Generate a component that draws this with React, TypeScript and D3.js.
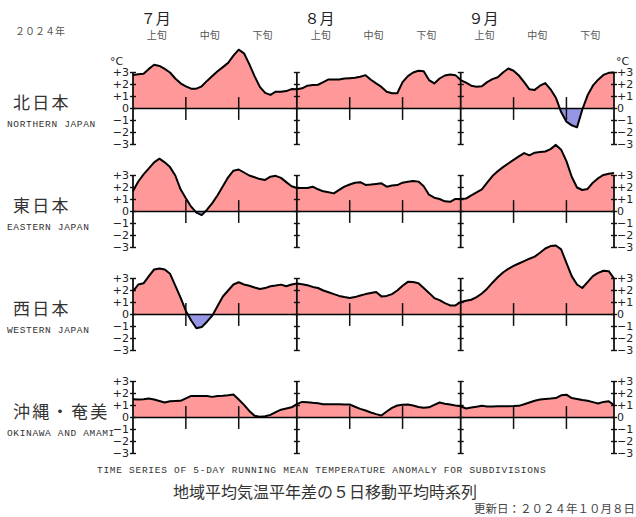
import React from 'react';
import * as d3 from 'd3';

// 5-day running mean temperature anomaly (°C), Jul 1 - Sep 30, 2024
const northern = [
  2.8, 2.85, 2.9, 3.3, 3.65, 3.55, 3.3, 3.0, 2.5, 2.1,
  1.85, 1.65, 1.65, 1.85, 2.3, 2.7, 3.1, 3.45, 3.8, 4.4,
  4.9, 4.6, 3.7, 2.7, 1.8, 1.3, 1.13, 1.4, 1.4, 1.45,
  1.62, 1.6, 1.68, 1.9, 1.96, 1.98, 2.2, 2.42, 2.42, 2.42,
  2.5, 2.53, 2.56, 2.65, 2.78, 2.4, 2.09, 1.8, 1.4, 1.27,
  1.27, 2.2, 2.7, 3.0, 3.14, 3.1, 2.37, 2.09, 2.5, 2.75,
  2.84, 2.78, 2.37, 2.15, 1.9, 1.82, 1.85, 2.2, 2.45, 2.6,
  3.0, 3.33, 3.15, 2.75, 2.2, 1.6, 1.55, 1.9, 2.12, 1.6,
  0.9, -0.3, -1.1, -1.4, -1.57, -0.1, 1.1, 1.9, 2.4, 2.8,
  2.97, 3.0,
];
const eastern = [
  1.71, 2.5, 3.1, 3.6, 4.1, 4.4, 4.1, 3.7, 3.0, 1.85,
  1.1, 0.4, -0.1, -0.3, 0.15, 0.7, 1.35, 2.1, 2.85, 3.4,
  3.5, 3.25, 3.0, 2.85, 2.7, 2.63, 2.9, 2.97, 2.8, 2.45,
  2.1, 1.96, 1.96, 1.96, 2.07, 1.85, 1.68, 1.6, 1.51, 1.8,
  2.07, 2.25, 2.4, 2.44, 2.21, 2.25, 2.3, 2.35, 2.07, 2.16,
  2.2, 2.4, 2.48, 2.55, 2.49, 2.1, 1.4, 1.15, 1.04, 0.85,
  0.81, 1.05, 1.05, 1.08, 1.35, 1.6, 1.85, 2.4, 2.95, 3.35,
  3.7, 4.0, 4.3, 4.6, 4.87, 4.68, 4.9, 4.96, 5.0, 5.2,
  5.55, 5.15, 4.2, 2.9, 2.0, 1.79, 1.88, 2.4, 2.77, 3.05,
  3.15, 3.2,
];
const western = [
  1.93, 2.5, 2.6, 3.2, 3.75, 3.84, 3.75, 3.4, 2.4, 1.4,
  0.3, -0.5, -1.15, -1.05, -0.6, -0.1, 0.7, 1.5, 2.0, 2.5,
  2.69, 2.5, 2.4, 2.25, 2.13, 2.2, 2.35, 2.41, 2.49, 2.35,
  2.5, 2.58, 2.52, 2.44, 2.3, 2.21, 2.0, 1.85, 1.7, 1.55,
  1.45, 1.37, 1.45, 1.58, 1.7, 1.8, 1.88, 1.51, 1.55, 1.7,
  2.0, 2.4, 2.72, 2.7, 2.6, 2.2, 1.8, 1.37, 1.2, 0.95,
  0.76, 0.76, 1.04, 1.15, 1.23, 1.45, 1.75, 2.15, 2.65, 3.1,
  3.5, 3.8, 4.05, 4.25, 4.45, 4.65, 4.82, 5.15, 5.5, 5.7,
  5.75, 5.43, 4.3, 3.2, 2.5, 2.21, 2.7, 3.2, 3.47, 3.65,
  3.61, 3.0,
];
const okinawa = [
  1.53, 1.5, 1.52, 1.58, 1.5, 1.38, 1.25, 1.36, 1.38, 1.39,
  1.6, 1.8, 1.8, 1.8, 1.8, 1.72, 1.8, 1.82, 1.85, 1.92,
  1.5, 1.05, 0.55, 0.15, 0.06, 0.1, 0.22, 0.45, 0.65, 0.75,
  0.85, 1.11, 1.3, 1.28, 1.22, 1.18, 1.11, 1.11, 1.11, 1.1,
  1.09, 1.08, 0.9, 0.72, 0.58, 0.42, 0.28, 0.17, 0.5, 0.8,
  1.0, 1.06, 1.08, 1.0, 0.88, 0.81, 0.85, 1.05, 1.25, 1.15,
  1.08, 1.0, 0.94, 0.75, 0.83, 0.9, 0.98, 0.92, 0.92, 0.94,
  0.94, 0.94, 0.95, 0.97, 1.1, 1.25, 1.4, 1.5, 1.55, 1.58,
  1.62, 1.85, 1.9, 1.62, 1.55, 1.45, 1.39, 1.28, 1.17, 1.3,
  1.36, 1.03,
];

const regionJa = ['北日本', '東日本', '西日本', '沖縄・奄美'];
const regionEn = ['NORTHERN JAPAN', 'EASTERN JAPAN', 'WESTERN JAPAN', 'OKINAWA AND AMAMI'];
const series = [northern, eastern, western, okinawa];

const months = ['７月', '８月', '９月'];
const monthStart = [0, 31, 62];
const decades = ['上旬', '中旬', '下旬'];
const decadeOffset = [0, 10, 20];
const yTicks = [3, 2, 1, 0, -1, -2, -3];
const yTickLabels = ['+3', '+2', '+1', '0', '−1', '−2', '−3'];

const W = 636, H = 517;
const PINK = '#ff9999';
const BLUE = '#9696e6';
const axisFont = '"DejaVu Sans", sans-serif';
const jaFont = '"Noto Sans CJK JP", sans-serif';
const monoFont = '"Liberation Mono", "DejaVu Sans Mono", monospace';

const x = d3.scaleLinear().domain([0, 91]).range([133, 614]);

function Panel({ idx }: { idx: number }) {
  const zero = 108.5 + idx * 103;
  const y = d3.scaleLinear().domain([-3, 3]).range([zero + 36, zero - 36]);
  const data = series[idx];
  const area = d3.area<number>().x((_, i) => x(i)).y0(zero).y1(d => y(d));
  const line = d3.line<number>().x((_, i) => x(i)).y(d => y(d));
  const x0 = x(0), x1 = x(data.length - 1);
  const axesAt = [0, 31, 62, 91];
  const decadeTicks = monthStart.flatMap(m => [m + 10, m + 20]);

  return (
    <g>
      <defs>
        <clipPath id={`pos${idx}`}><rect x={x0} y={0} width={x1 - x0} height={zero} /></clipPath>
        <clipPath id={`neg${idx}`}><rect x={x0} y={zero} width={x1 - x0} height={200} /></clipPath>
      </defs>
      <path d={area(data) || ''} fill={PINK} clipPath={`url(#pos${idx})`} />
      <path d={area(data) || ''} fill={BLUE} clipPath={`url(#neg${idx})`} />
      <line x1={x0} x2={x1} y1={zero} y2={zero} stroke="#000" strokeWidth={1.6} />
      {decadeTicks.map(d => (
        <line key={d} x1={x(d)} x2={x(d)} y1={y(0.95)} y2={y(-0.95)} stroke="#111" strokeWidth={1.5} />
      ))}
      {axesAt.map(a => (
        <g key={a}>
          <line x1={x(a)} x2={x(a)} y1={y(3)} y2={y(-3)} stroke="#111" strokeWidth={1.8} />
          {yTicks.map(t => (
            <line key={t} x1={x(a) - 3} x2={x(a) + 3} y1={y(t)} y2={y(t)} stroke="#111" strokeWidth={1.4} />
          ))}
        </g>
      ))}
      <path d={line(data) || ''} fill="none" stroke="#000" strokeWidth={2} strokeLinejoin="round" />
      {yTicks.map((t, i) => (
        <g key={t} fontFamily={axisFont} fontSize={11} fill="#222">
          <text x={129} y={y(t)} dy="0.36em" textAnchor="end">{yTickLabels[i]}</text>
          <text x={617} y={y(t)} dy="0.36em" textAnchor="start">{yTickLabels[i]}</text>
        </g>
      ))}
      {idx === 0 && (
        <g fontFamily={axisFont} fontSize={11} fill="#222">
          <text x={110} y={y(3) - 8}>°C</text>
          <text x={616} y={y(3) - 8}>°C</text>
        </g>
      )}
      <text x={13} y={zero} fontFamily={jaFont} fontSize={17} letterSpacing={2.3} fill="#333">{regionJa[idx]}</text>
      <text x={7} y={zero + 18} fontFamily={monoFont} fontSize={9.5} letterSpacing={0.65} fill="#333">{regionEn[idx]}</text>
    </g>
  );
}

export default function App() {
  return (
    <svg width={W} height={H} style={{ position: 'absolute', left: 0, top: 0, background: '#fff' }}>
      <rect width={W} height={H} fill="#fff" />
      <text x={15} y={35} fontFamily={jaFont} fontSize={10} fill="#555">２０２４年</text>
      {months.map((m, i) => (
        <text key={m} x={x(monthStart[i] + 4.3)} y={24} textAnchor="middle" fontFamily={jaFont} fontSize={15} fill="#222">{m}</text>
      ))}
      {monthStart.flatMap((ms, i) => decades.map((dc, j) => (
        <text key={`${i}-${j}`} x={x(ms + decadeOffset[j] + 4.5)} y={39} textAnchor="middle" fontFamily={jaFont} fontSize={10} fill="#555">{dc}</text>
      )))}
      {series.map((_, i) => <Panel key={i} idx={i} />)}
      <text x={97} y={473} fontFamily={monoFont} fontSize={9.5} letterSpacing={0.72} fill="#333">TIME SERIES OF 5-DAY RUNNING MEAN TEMPERATURE ANOMALY FOR SUBDIVISIONS</text>
      <text x={173} y={498} fontFamily={jaFont} fontSize={16} fill="#333">地域平均気温平年差の５日移動平均時系列</text>
      <text x={474} y={513} fontFamily={jaFont} fontSize={11.5} fill="#444">更新日：２０２４年１０月８日</text>
    </svg>
  );
}
